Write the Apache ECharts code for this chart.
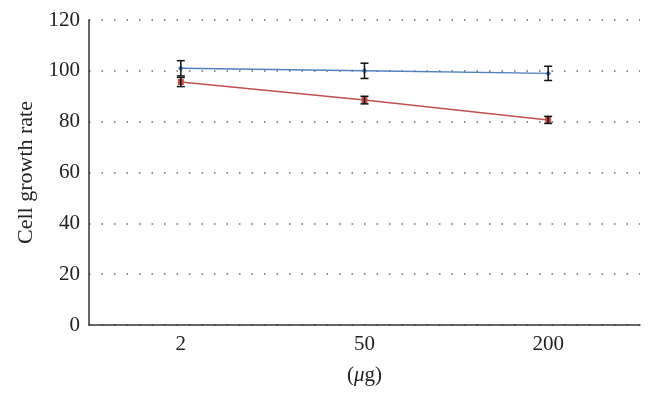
<!DOCTYPE html>
<html><head><meta charset="utf-8">
<script src="https://cdn.jsdelivr.net/npm/echarts@6/dist/echarts.min.js"></script>
<style>html,body{margin:0;padding:0;background:#fff}#c{width:654px;height:400px}</style>
</head><body><div id="c"></div>
<script>
const categories = ['2', '50', '200'];
const blueValues = [101, 100, 99];
const blueErrors = [3, 3, 2.8];
const redValues = [95.6, 88.5, 80.7];
const redErrors = [1.8, 1.5, 1.4];
const yTicks = [0, 20, 40, 60, 80, 100, 120];

const font = 'Liberation Serif';
function errSeries(vals, errs) {
  return {
    type: 'custom', z: 5,
    data: vals.map((v, i) => [i, v - errs[i], v + errs[i]]),
    renderItem: function (params, api) {
      const lo = api.coord([api.value(0), api.value(1)]);
      const hi = api.coord([api.value(0), api.value(2)]);
      const w = 4;
      const st = { stroke: '#111', lineWidth: 1.5 };
      return { type: 'group', children: [
        { type: 'line', shape: { x1: hi[0], y1: hi[1], x2: lo[0], y2: lo[1] }, style: st },
        { type: 'line', shape: { x1: hi[0] - w, y1: hi[1], x2: hi[0] + w, y2: hi[1] }, style: st },
        { type: 'line', shape: { x1: lo[0] - w, y1: lo[1], x2: lo[0] + w, y2: lo[1] }, style: st }
      ]};
    }
  };
}
const chart = echarts.init(document.getElementById('c'));
chart.setOption({
  animation: false,
  grid: { left: 89, right: 14, top: 20, bottom: 75 },
  xAxis: {
    type: 'category', data: categories, boundaryGap: true,
    name: '({i|μ}g)', nameLocation: 'middle', nameGap: 40,
    nameTextStyle: { fontFamily: font, fontSize: 21, color: '#222',
      rich: { i: { fontFamily: font, fontSize: 21, fontStyle: 'italic', color: '#222' } } },
    axisLine: { lineStyle: { color: '#333', width: 1.5 } },
    axisTick: { show: false },
    axisLabel: { fontFamily: font, fontSize: 21, color: '#222', margin: 9 }
  },
  yAxis: {
    type: 'value', min: yTicks[0], max: yTicks[yTicks.length - 1], interval: 20,
    name: 'Cell growth rate', nameLocation: 'middle', nameGap: 52,
    nameTextStyle: { fontFamily: font, fontSize: 22, color: '#222' },
    axisLine: { show: true, lineStyle: { color: '#333', width: 1.5 } },
    axisTick: { show: false },
    axisLabel: { fontFamily: font, fontSize: 21, color: '#222', margin: 9 },
    splitLine: { lineStyle: { color: '#666', type: [1.5, 11], width: 1.5 } }
  },
  series: [
    { type: 'line', data: blueValues, color: '#4F81BD', symbol: 'diamond', symbolSize: 6,
      lineStyle: { width: 1.5 }, z: 3 },
    { type: 'line', data: redValues, color: '#C0504D', symbol: 'rect', symbolSize: 6,
      lineStyle: { width: 1.5 }, z: 3 },
    errSeries(blueValues, blueErrors),
    errSeries(redValues, redErrors)
  ]
});
</script></body></html>
